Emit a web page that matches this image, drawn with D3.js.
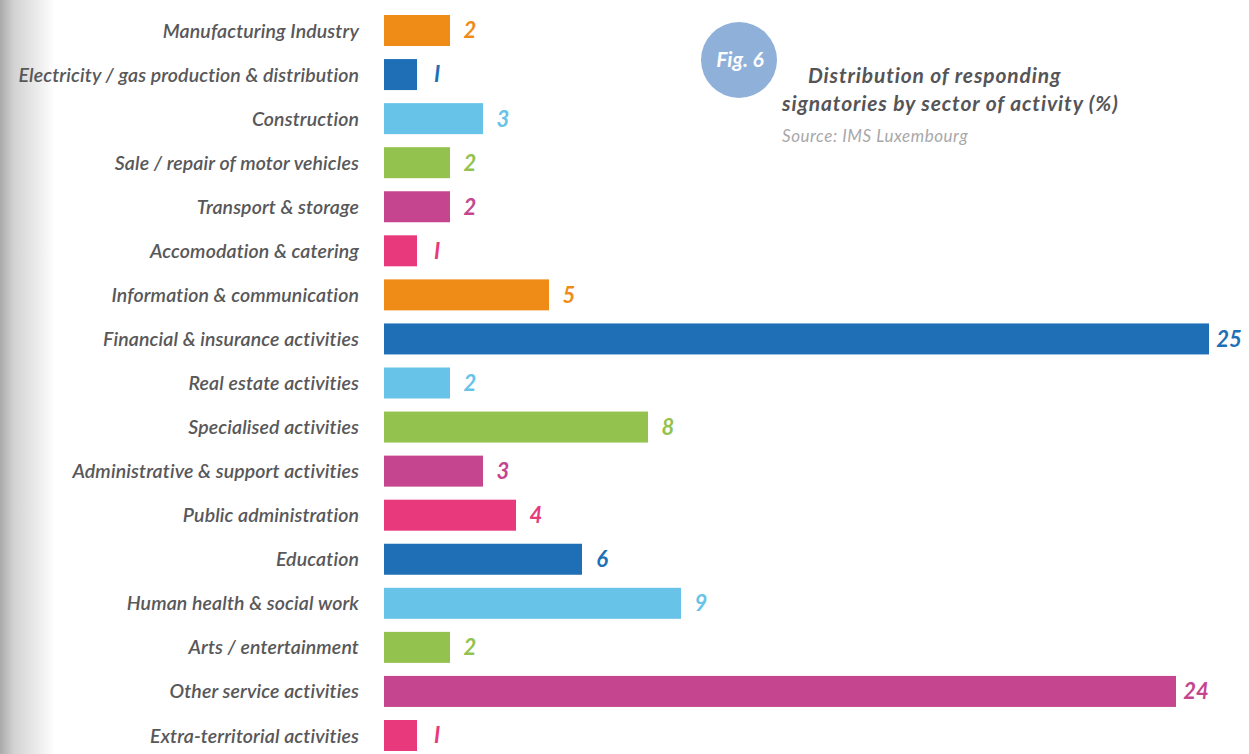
<!DOCTYPE html>
<html>
<head>
<meta charset="utf-8">
<script src="https://cdn.jsdelivr.net/npm/d3@7"></script>
<style>
  html, body { margin: 0; padding: 0; background: #fff; }
  svg { display: block; font-family: Lato, "Open Sans", sans-serif; }
</style>
</head>
<body>
<svg id="chart" width="1249" height="754"></svg>
<script>
// Sectors of activity, top to bottom
const sectors = [
  "Manufacturing Industry",
  "Electricity / gas production & distribution",
  "Construction",
  "Sale / repair of motor vehicles",
  "Transport & storage",
  "Accomodation & catering",
  "Information & communication",
  "Financial & insurance activities",
  "Real estate activities",
  "Specialised activities",
  "Administrative & support activities",
  "Public administration",
  "Education",
  "Human health & social work",
  "Arts / entertainment",
  "Other service activities",
  "Extra-territorial activities"
];
// Share of responding signatories (%)
const shares = [2, 1, 3, 2, 2, 1, 5, 25, 2, 8, 3, 4, 6, 9, 2, 24, 1];
// Bar colour per sector
const ORANGE = "#ef8c17", BLUE = "#1f6fb7", SKY = "#68c3e8", GREEN = "#93c24f", PLUM = "#c5468f", PINK = "#e8397c";
const barColors = [ORANGE, BLUE, SKY, GREEN, PLUM, PINK, ORANGE, BLUE, SKY, GREEN, PLUM, PINK, BLUE, SKY, GREEN, PLUM, PINK];

const svg = d3.select("#chart");
const W = 1249, H = 754;

// soft grey shading along the left edge
const defs = svg.append("defs");
const grad = defs.append("linearGradient").attr("id", "edge").attr("x1", 0).attr("x2", 1).attr("y1", 0).attr("y2", 0);
grad.append("stop").attr("offset", 0).attr("stop-color", "#a9a9a9");
grad.append("stop").attr("offset", 0.25).attr("stop-color", "#d2d2d2");
grad.append("stop").attr("offset", 1).attr("stop-color", "#ffffff");
svg.append("rect").attr("x", 0).attr("y", 0).attr("width", 55).attr("height", H).attr("fill", "url(#edge)");

const x = d3.scaleLinear().domain([0, 25]).range([384, 1209]);
const y = d3.scaleBand().domain(sectors).range([-7.03, 773.03]).paddingInner(0.2964).paddingOuter(0.5);

const data = sectors.map((s, i) => ({ sector: s, value: shares[i], color: barColors[i] }));

// category labels
const yAxis = d3.axisLeft(y).tickSize(0).tickPadding(0);
const ax = svg.append("g").attr("transform", "translate(359,0)").call(yAxis);
ax.select(".domain").remove();
ax.selectAll("text")
  .attr("font-family", "Lato, 'Open Sans', sans-serif")
  .attr("font-size", 19.5)
  .attr("font-style", "italic")
  .attr("font-weight", 600)
  .attr("letter-spacing", 0.12)
  .attr("fill", "#58585a")
  .attr("dy", "0.36em");

// bars
svg.append("g").selectAll("rect").data(data).join("rect")
  .attr("x", x(0))
  .attr("y", d => y(d.sector))
  .attr("width", d => x(d.value) - x(0))
  .attr("height", y.bandwidth())
  .attr("fill", d => d.color);

// value labels
svg.append("g").selectAll("text").data(data).join("text")
  .attr("x", d => x(d.value) + 20)
  .attr("y", d => y(d.sector) + y.bandwidth() / 2)
  .attr("dy", "0.36em")
  .attr("text-anchor", "middle")
  .attr("font-size", 22)
  .attr("font-style", "italic")
  .attr("font-weight", 700)
  .attr("fill", d => d.color)
  .text(d => d.value === 1 ? "I" : d.value);

// figure badge and title
svg.append("circle").attr("cx", 739).attr("cy", 60).attr("r", 38).attr("fill", "#8fb0d8");
svg.append("text").attr("x", 740).attr("y", 67).attr("text-anchor", "middle")
  .attr("font-size", 21).attr("font-style", "italic").attr("font-weight", 700)
  .attr("fill", "#ffffff").text("Fig. 6");

const title = svg.append("text").attr("font-size", 21).attr("font-style", "italic")
  .attr("font-weight", 700).attr("fill", "#555558").attr("letter-spacing", 0.86);
title.append("tspan").attr("x", 808).attr("y", 83).text("Distribution of responding");
title.append("tspan").attr("x", 782).attr("y", 111).text("signatories by sector of activity (%)");

svg.append("text").attr("x", 782).attr("y", 142).attr("font-size", 17)
  .attr("font-style", "italic").attr("fill", "#a8a8aa").attr("letter-spacing", 0.55)
  .text("Source: IMS Luxembourg");
</script>
</body>
</html>
